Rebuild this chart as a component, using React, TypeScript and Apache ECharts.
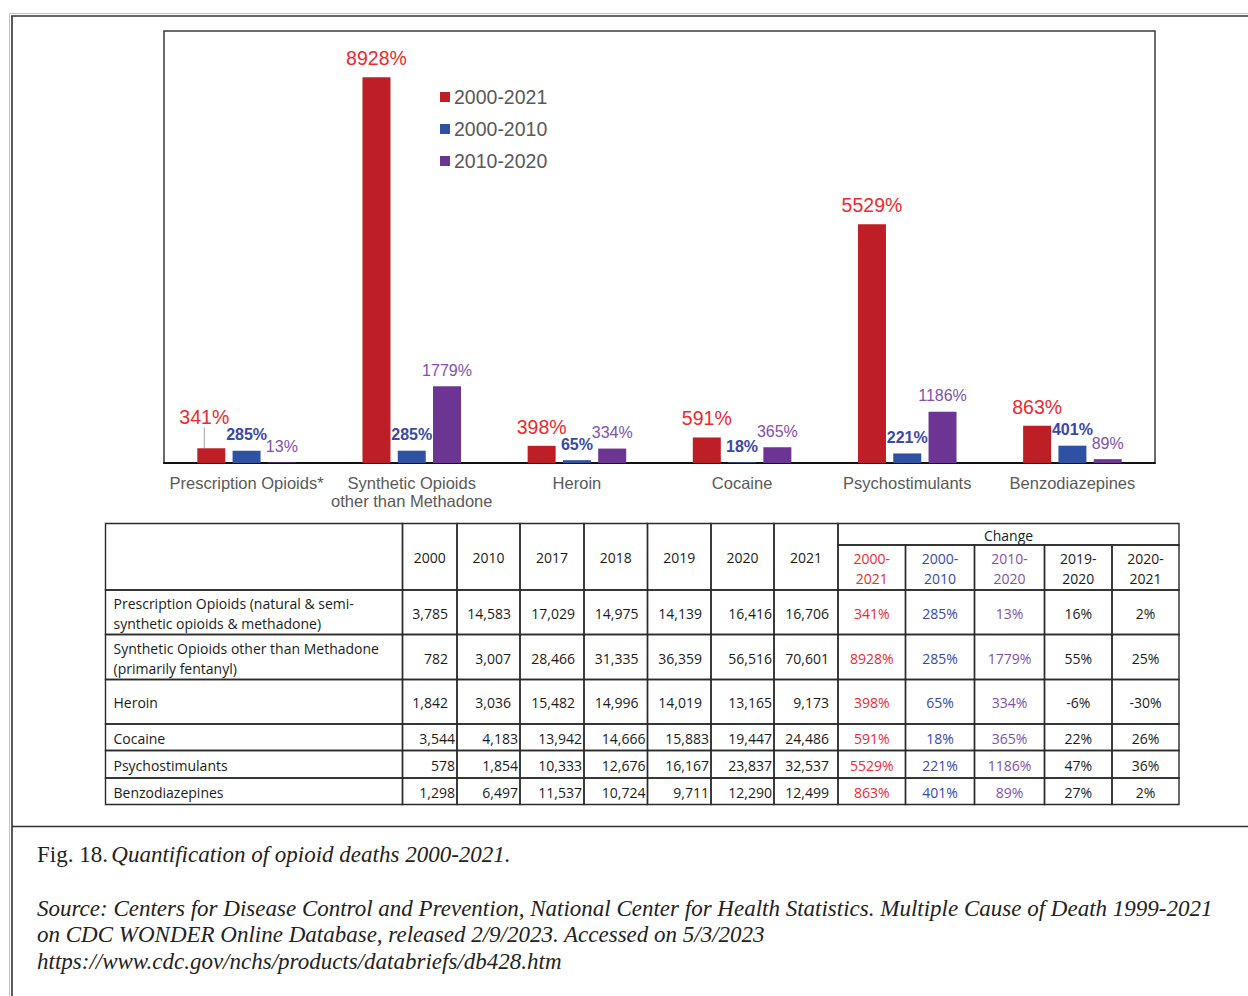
import React, { useEffect, useRef } from 'react';
import * as echarts from 'echarts';

// ---------- data ----------
const categories = [
  'Prescription Opioids*',
  'Synthetic Opioids\nother than Methadone',
  'Heroin',
  'Cocaine',
  'Psychostimulants',
  'Benzodiazepines',
];
const legendNames = ['2000-2021', '2000-2010', '2010-2020'];
const change2000to2021 = [341, 8928, 398, 591, 5529, 863];
const change2000to2010 = [285, 285, 65, 18, 221, 401];
const change2010to2020 = [13, 1779, 334, 365, 1186, 89];
const change2019to2020 = [16, 55, -6, 22, 47, 27];
const change2020to2021 = [2, 25, -30, 26, 36, 2];

const tableYears = ['2000', '2010', '2017', '2018', '2019', '2020', '2021'];
const changeGroupTitle = 'Change';
const changeHeaders = ['2000-\n2021', '2000-\n2010', '2010-\n2020', '2019-\n2020', '2020-\n2021'];
const tableRowNames = [
  'Prescription Opioids (natural & semi-\nsynthetic opioids & methadone)',
  'Synthetic Opioids other than Methadone\n(primarily fentanyl)',
  'Heroin',
  'Cocaine',
  'Psychostimulants',
  'Benzodiazepines',
];
const deaths2000 = [3785, 782, 1842, 3544, 578, 1298];
const deaths2010 = [14583, 3007, 3036, 4183, 1854, 6497];
const deaths2017 = [17029, 28466, 15482, 13942, 10333, 11537];
const deaths2018 = [14975, 31335, 14996, 14666, 12676, 10724];
const deaths2019 = [14139, 36359, 14019, 15883, 16167, 9711];
const deaths2020 = [16416, 56516, 13165, 19447, 23837, 12290];
const deaths2021 = [16706, 70601, 9173, 24486, 32537, 12499];

const captionFig = 'Fig. 18.';
const captionTitle = 'Quantification of opioid deaths 2000-2021.';
const sourceLines = [
  'Source: Centers for Disease Control and Prevention, National Center for Health Statistics. Multiple Cause of Death 1999-2021',
  'on CDC WONDER Online Database, released 2/9/2023. Accessed on 5/3/2023',
  'https://www.cdc.gov/nchs/products/databriefs/db428.htm',
];

// ---------- styles / layout ----------
const BAR_RED = '#BE1E26';
const BAR_BLUE = '#2F51A3';
const BAR_PURPLE = '#6C3593';
const LBL_RED = '#F0282E';
const LBL_BLUE = '#3947A8';
const LBL_PURPLE = '#8050AE';
const SANS = '"Liberation Sans", Arial, sans-serif';
const TABLE_FONT = '"Open Sans", "Noto Sans", sans-serif';
const SERIF = '"Liberation Serif", "Times New Roman", serif';
const CAPTION_SIZE = 23;

const colWidths = [297, 54.5, 63, 64, 63.5, 63.5, 63, 64, 67.5, 69, 70, 67.5, 67];
const rowHeights = [21.5, 45, 44.5, 45, 44.5, 26.5, 27.5, 26.5];

type Cell = {
  c0: number; c1: number; r0: number; r1: number;
  text: string; align: 'left' | 'center' | 'right'; pad: number; color: string;
};

function buildCells(): Cell[] {
  const cells: Cell[] = [];
  const deathCols = [deaths2000, deaths2010, deaths2017, deaths2018, deaths2019, deaths2020, deaths2021];
  const changeCols = [change2000to2021, change2000to2010, change2010to2020, change2019to2020, change2020to2021];
  const changeColors = [LBL_RED, LBL_BLUE, LBL_PURPLE, '#1a1a1a', '#1a1a1a'];
  cells.push({ c0: 0, c1: 1, r0: 0, r1: 2, text: '', align: 'center', pad: 0, color: '#1a1a1a' });
  tableYears.forEach((y, i) =>
    cells.push({ c0: i + 1, c1: i + 2, r0: 0, r1: 2, text: y, align: 'center', pad: 0, color: '#1a1a1a' })
  );
  cells.push({ c0: 8, c1: 13, r0: 0, r1: 1, text: changeGroupTitle, align: 'center', pad: 0, color: '#1a1a1a' });
  changeHeaders.forEach((h, i) =>
    cells.push({ c0: 8 + i, c1: 9 + i, r0: 1, r1: 2, text: h, align: 'center', pad: 0, color: changeColors[i] })
  );
  tableRowNames.forEach((name, r) => {
    const row = r + 2;
    cells.push({ c0: 0, c1: 1, r0: row, r1: row + 1, text: name, align: 'left', pad: 8, color: '#1a1a1a' });
    deathCols.forEach((col, c) => {
      const pad = c === 6 || (r < 3 && c !== 5) ? 9 : 2;
      cells.push({
        c0: c + 1, c1: c + 2, r0: row, r1: row + 1,
        text: col[r].toLocaleString('en-US'), align: 'right', pad, color: '#1a1a1a',
      });
    });
    changeCols.forEach((col, c) => {
      cells.push({
        c0: 8 + c, c1: 9 + c, r0: row, r1: row + 1,
        text: `${col[r]}%`, align: 'center', pad: 0, color: changeColors[c],
      });
    });
  });
  return cells;
}

export default function App() {
  const ref = useRef<HTMLDivElement>(null);

  useEffect(() => {
    if (!ref.current) return;
    const chart = echarts.init(ref.current, undefined, { renderer: 'svg' });

    const colX = [0];
    colWidths.forEach((w) => colX.push(colX[colX.length - 1] + w));
    const rowY = [0];
    rowHeights.forEach((h) => rowY.push(rowY[rowY.length - 1] + h));
    const tableW = colX[colX.length - 1];
    const tableH = rowY[rowY.length - 1];
    const cells = buildCells();

    const barLabel = (color: string, size: number, bold: boolean, distance: number) => ({
      show: true,
      position: 'top',
      distance,
      formatter: '{c}%',
      color,
      fontSize: size,
      fontWeight: bold ? 'bold' : 'normal',
      fontFamily: SANS,
    });

    const option: any = {
      animation: false,
      backgroundColor: '#ffffff',
      legend: {
        data: legendNames,
        orient: 'vertical',
        left: 435,
        top: 82,
        itemWidth: 10,
        itemHeight: 10,
        itemGap: 12,
        icon: 'rect',
        selectedMode: false,
        textStyle: { color: '#595959', fontSize: 19.5, fontFamily: SANS, padding: [0, 0, 0, -1] },
      },
      grid: [
        {
          left: 164, top: 31, width: 991, height: 432,
          show: true, borderColor: '#3a3a3a', borderWidth: 1.5, backgroundColor: '#fff',
        },
        { left: 105.5, top: 523.5, width: tableW, height: tableH, show: false },
      ],
      xAxis: [
        {
          gridIndex: 0,
          type: 'category',
          data: categories,
          axisTick: { show: false },
          axisLine: { lineStyle: { color: '#111', width: 2 } },
          axisLabel: {
            interval: 0, color: '#595959', fontSize: 16.5, fontFamily: SANS, margin: 11, lineHeight: 18,
          },
        },
        { gridIndex: 1, type: 'value', min: 0, max: tableW, show: false },
      ],
      yAxis: [
        { gridIndex: 0, type: 'value', min: 0, max: 10000, show: false },
        { gridIndex: 1, type: 'value', min: 0, max: tableH, inverse: true, show: false },
      ],
      series: [
        {
          type: 'bar',
          name: legendNames[0],
          xAxisIndex: 0, yAxisIndex: 0,
          barWidth: 28, barGap: '26%',
          itemStyle: { color: BAR_RED },
          label: barLabel(LBL_RED, 19.5, false, 9),
          labelLine: { show: false, lineStyle: { color: '#a0a0a0', width: 1 } },
          labelLayout: (p: any) => (p.dataIndex === 0 ? { dx: -7, dy: -12 } : {}),
          data: change2000to2021.map((v, i) =>
            i === 0 ? { value: v, labelLine: { show: true, lineStyle: { color: '#a0a0a0', width: 1 } } } : v
          ),
        },
        {
          type: 'bar',
          name: legendNames[1],
          xAxisIndex: 0, yAxisIndex: 0,
          barWidth: 28, barGap: '26%',
          itemStyle: { color: BAR_BLUE },
          label: barLabel(LBL_BLUE, 16, true, 8),
          data: change2000to2010,
        },
        {
          type: 'bar',
          name: legendNames[2],
          xAxisIndex: 0, yAxisIndex: 0,
          barWidth: 28, barGap: '26%',
          itemStyle: { color: BAR_PURPLE },
          label: barLabel(LBL_PURPLE, 16, false, 8),
          data: change2010to2020,
        },
        {
          type: 'custom',
          xAxisIndex: 1, yAxisIndex: 1,
          silent: true,
          data: cells.map((c) => [colX[c.c0], rowY[c.r0], colX[c.c1], rowY[c.r1]]),
          encode: { x: [0, 2], y: [1, 3] },
          renderItem: (params: any, api: any) => {
            const cell = cells[params.dataIndex];
            const p0 = api.coord([api.value(0), api.value(1)]);
            const p1 = api.coord([api.value(2), api.value(3)]);
            const x = Math.min(p0[0], p1[0]);
            const y = Math.min(p0[1], p1[1]);
            const w = Math.abs(p1[0] - p0[0]);
            const h = Math.abs(p1[1] - p0[1]);
            let tx = x + w / 2;
            if (cell.align === 'left') tx = x + cell.pad;
            else if (cell.align === 'right') tx = x + w - cell.pad;
            return {
              type: 'group',
              children: [
                {
                  type: 'rect',
                  shape: { x, y, width: w, height: h },
                  style: { fill: 'none', stroke: '#2a2a2a', lineWidth: 1.4 },
                },
                {
                  type: 'text',
                  x: tx,
                  y: y + h / 2 + 1,
                  style: {
                    text: cell.text,
                    fill: cell.color,
                    fontSize: 14,
                    fontFamily: TABLE_FONT,
                    align: cell.align,
                    verticalAlign: 'middle',
                    lineHeight: 20,
                  },
                },
              ],
            };
          },
        },
      ],
      graphic: [
        { type: 'line', shape: { x1: 9, y1: 13.5, x2: 1248, y2: 13.5 }, style: { stroke: '#c4c4c4', lineWidth: 1 } },
        { type: 'line', shape: { x1: 11, y1: 16, x2: 1248, y2: 16 }, style: { stroke: '#333', lineWidth: 1.6 } },
        { type: 'line', shape: { x1: 9.5, y1: 13.5, x2: 9.5, y2: 996 }, style: { stroke: '#c4c4c4', lineWidth: 1 } },
        { type: 'line', shape: { x1: 12, y1: 16, x2: 12, y2: 996 }, style: { stroke: '#333', lineWidth: 1.6 } },
        { type: 'line', shape: { x1: 12, y1: 826.5, x2: 1248, y2: 826.5 }, style: { stroke: '#333', lineWidth: 1.5 } },
        {
          type: 'text',
          x: 37,
          y: 854,
          style: {
            text: `{n|${captionFig}} {i|${captionTitle}}`,
            verticalAlign: 'middle',
            rich: {
              n: { fontFamily: SERIF, fontSize: CAPTION_SIZE, fill: '#222', color: '#222' },
              i: { fontFamily: SERIF, fontSize: CAPTION_SIZE, fontStyle: 'italic', fill: '#222', color: '#222' },
            },
          },
        },
        {
          type: 'text',
          x: 37,
          y: 895,
          style: {
            text: sourceLines.join('\n'),
            fontFamily: SERIF,
            fontSize: CAPTION_SIZE,
            fontStyle: 'italic',
            fill: '#222',
            lineHeight: 26.5,
            verticalAlign: 'top',
          },
        },
      ],
    };

    chart.setOption(option);
    return () => chart.dispose();
  }, []);

  return (
    <div
      ref={ref}
      style={{ position: 'absolute', left: 0, top: 0, width: 1248, height: 996, background: '#fff' }}
    />
  );
}
